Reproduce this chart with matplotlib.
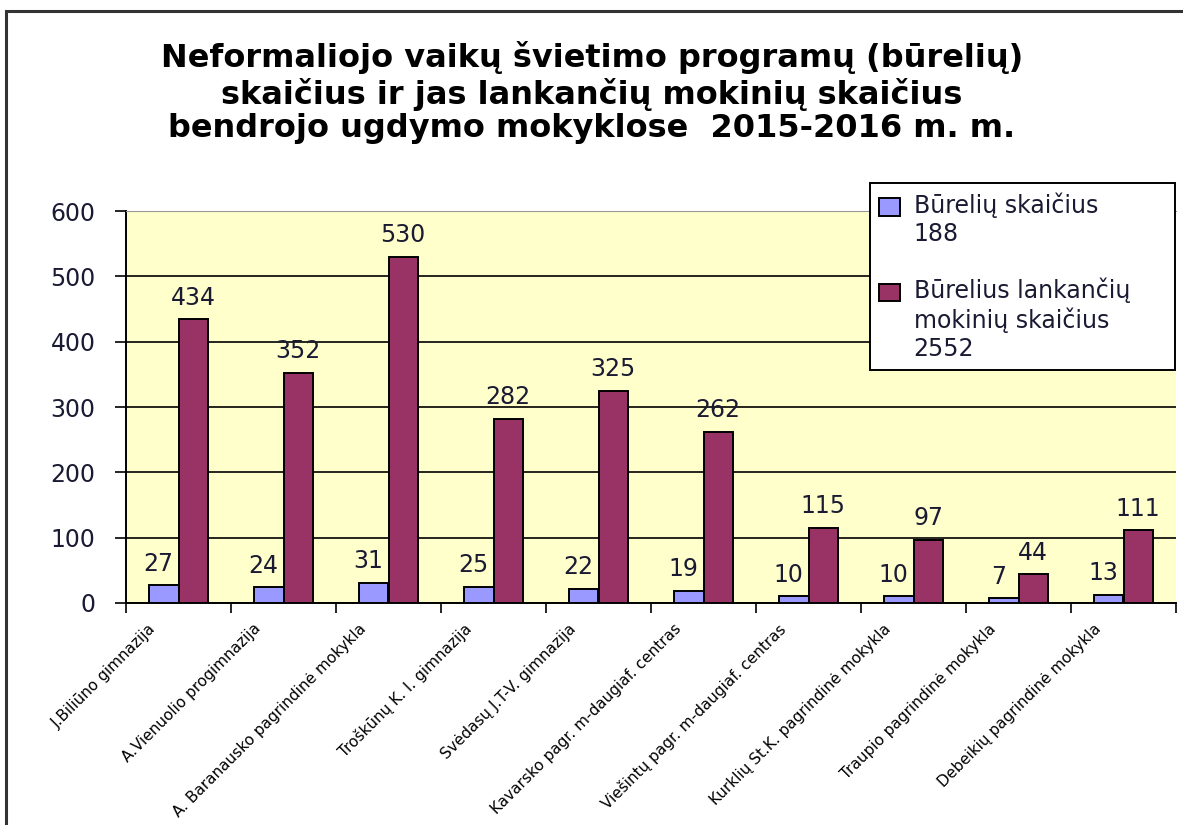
import numpy as np
import matplotlib
matplotlib.use("Agg")
import matplotlib.pyplot as plt
import matplotlib.transforms as mtransforms
from matplotlib.patches import Rectangle

# chart data
schools = [
    "J.Biliūno gimnazija",
    "A.Vienuolio progimnazija",
    "A. Baranausko pagrindinė mokykla",
    "Troškūnų K. I. gimnazija",
    "Svėdasų J.T-V. gimnazija",
    "Kavarsko pagr. m-daugiaf. centras",
    "Viešintų pagr. m-daugiaf. centras",
    "Kurklių St.K. pagrindinė mokykla",
    "Traupio pagrindinė mokykla",
    "Debeikių pagrindinė mokykla",
]
clubs = [27, 24, 31, 25, 22, 19, 10, 10, 7, 13]
students = [434, 352, 530, 282, 325, 262, 115, 97, 44, 111]
y_ticks = [0, 100, 200, 300, 400, 500, 600]

title = ("Neformaliojo vaikų švietimo programų (būrelių)\n"
         "skaičius ir jas lankančių mokinių skaičius\n"
         "bendrojo ugdymo mokyklose  2015-2016 m. m.")
label_clubs = "Būrelių skaičius\n188"
label_students = "Būrelius lankančių\nmokinių skaičius\n2552"

blue = "#9999FF"
maroon = "#993366"
text_col = "#1a1a33"

fig = plt.figure(figsize=(11.83, 8.25), dpi=100)
ax = fig.add_axes([126 / 1183, 1 - 603 / 825, (1176 - 126) / 1183, (603 - 211) / 825])
ax.set_facecolor("#FFFFCC")

# frame around the whole chart
fig.patches.append(Rectangle((6 / 1183, -0.1), 2, (825 - 11) / 825 + 0.1,
                             transform=fig.transFigure, fill=False,
                             edgecolor="#333333", linewidth=2.2))

x = np.arange(len(schools))
w = 0.28
b1 = ax.bar(x - w / 2, clubs, w, color=blue, edgecolor="black", linewidth=1.4,
            label=label_clubs, zorder=3)
b2 = ax.bar(x + w / 2, students, w, color=maroon, edgecolor="black", linewidth=1.4,
            label=label_students, zorder=3)

for rect, v in zip(b1, clubs):
    ax.annotate(str(v), (rect.get_x() + rect.get_width() / 2 - 0.05, v),
                xytext=(0, 7), textcoords="offset points", ha="center", va="bottom",
                fontsize=17, color=text_col, zorder=4)
for rect, v in zip(b2, students):
    ax.annotate(str(v), (rect.get_x() + rect.get_width() / 2, v),
                xytext=(0, 7), textcoords="offset points", ha="center", va="bottom",
                fontsize=17, color=text_col, zorder=4)

ax.set_xlim(-0.5, len(schools) - 0.5)
ax.set_ylim(0, 600)
ax.set_yticks(y_ticks)
ax.set_yticklabels([str(t) for t in y_ticks], fontsize=17, color=text_col)
ax.yaxis.grid(True, color="black", linewidth=1.2, zorder=0)
ax.set_axisbelow(True)
ax.tick_params(axis="y", length=8, width=1.2, pad=14)

# category boundary ticks and rotated labels
ax.set_xticks(np.arange(-0.5, len(schools)), minor=True)
ax.tick_params(axis="x", which="minor", length=7, width=1.2)
ax.set_xticks(x)
ax.set_xticklabels(schools, rotation=45, ha="right", rotation_mode="anchor",
                   fontsize=11, color="black")
ax.tick_params(axis="x", which="major", length=0, pad=13)
shift = mtransforms.ScaledTranslation(-0.3, 0, fig.dpi_scale_trans)
for lbl in ax.get_xticklabels():
    lbl.set_transform(lbl.get_transform() + shift)

for side in ["left", "bottom"]:
    ax.spines[side].set_linewidth(1.4)
ax.spines["top"].set_color("#999999")
ax.spines["right"].set_visible(False)

fig.text(592 / 1183, 1 - 93 / 825, title, ha="center", va="center",
         fontsize=23, fontweight="bold", family="DejaVu Sans",
         linespacing=1.12)

leg = ax.legend(loc="upper left",
                bbox_to_anchor=(870 / 1183, 1 - 365 / 825, 305 / 1183, 182 / 825),
                bbox_transform=fig.transFigure, mode="expand", fontsize=17,
                frameon=True, fancybox=False, edgecolor="black", framealpha=1,
                handlelength=0.85, handleheight=0.75, handletextpad=0.6,
                labelspacing=1.35, borderpad=0.4, borderaxespad=0)
leg.get_frame().set_linewidth(1.4)
for t in leg.get_texts():
    t.set_color(text_col)
    t.set_linespacing(1.2)

# move each legend swatch up to the first line of its label
fig.canvas.draw()
for handle, t in zip(leg.legend_handles, leg.get_texts()):
    n = t.get_text().count("\n")
    tb = t.get_window_extent()
    hb = handle.get_window_extent()
    pitch = tb.height / (n + 1)
    want = tb.y1 - pitch * 0.55
    have = (hb.y0 + hb.y1) / 2
    handle.set_y(handle.get_y() + (want - have) * 72 / fig.dpi)

fig.savefig("out.png", dpi=100)
